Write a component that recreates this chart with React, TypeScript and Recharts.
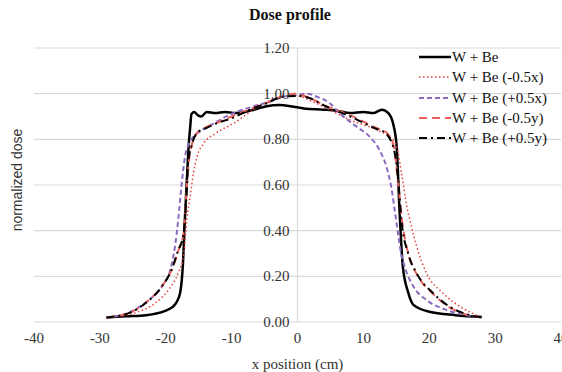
import React from "react";
import { LineChart, Line, XAxis, YAxis, CartesianGrid, ReferenceLine } from "recharts";

const seriesNames = ["W + Be", "W + Be (-0.5x)", "W + Be (+0.5x)", "W + Be (-0.5y)", "W + Be (+0.5y)"];

// W + Be
const xW = [-29, -26, -23, -20, -19, -18.3, -17.8, -17.4, -17.1, -16.8, -16.5, -16.3, -16.1, -15.7, -15.1, -14.6, -13.8, -12.5, -11, -9.5, -8, -6.5, -4.7, -2.7, -1, 1, 4, 6, 8, 10, 11.5, 12.8, 13.8, 14.5, 15.05, 15.5, 16, 16.8, 17.6, 20, 24, 28];
const yW = [0.02, 0.025, 0.03, 0.05, 0.065, 0.09, 0.13, 0.25, 0.45, 0.62, 0.78, 0.85, 0.91, 0.92, 0.905, 0.9, 0.92, 0.915, 0.92, 0.915, 0.92, 0.93, 0.945, 0.95, 0.945, 0.935, 0.93, 0.925, 0.915, 0.92, 0.915, 0.93, 0.915, 0.87, 0.77, 0.48, 0.24, 0.13, 0.075, 0.045, 0.03, 0.022];

// W + Be (-0.5x)
const xMx = [-29, -24.7, -21.6, -19.6, -18.1, -17.3, -16.8, -16.3, -15.8, -15.3, -14.3, -12.5, -9.7, -6.7, -4.2, -2.2, 0, 1.9, 4.4, 8, 12.5, 14, 15.05, 15.8, 16.6, 17.2, 18.1, 19.6, 22.1, 24.7, 28];
const yMx = [0.02, 0.04, 0.083, 0.14, 0.215, 0.29, 0.45, 0.55, 0.65, 0.72, 0.78, 0.825, 0.87, 0.93, 0.97, 0.99, 0.99, 0.97, 0.936, 0.885, 0.835, 0.81, 0.77, 0.65, 0.505, 0.43, 0.33, 0.213, 0.126, 0.067, 0.02];

// W + Be (+0.5x)
const xPx = [-29, -25.7, -22.6, -20.6, -19.3, -18.6, -18.1, -17.6, -17.1, -16.3, -14.8, -13.3, -11.5, -9.8, -7.2, -3.7, -2.2, 0, 1.5, 2.9, 4.9, 6.4, 9, 11, 12.5, 13.5, 14.3, 14.8, 15.3, 15.6, 16.3, 17.6, 19.6, 22.6, 25.7, 28];
const yPx = [0.02, 0.04, 0.096, 0.155, 0.23, 0.33, 0.45, 0.6, 0.72, 0.79, 0.835, 0.86, 0.89, 0.914, 0.94, 0.97, 0.987, 0.995, 1.0, 0.987, 0.958, 0.914, 0.855, 0.81, 0.75, 0.68, 0.58, 0.48, 0.38, 0.32, 0.24, 0.155, 0.096, 0.053, 0.03, 0.02];

// W + Be (-0.5y)
const xMy = [-29, -25.5, -23, -20.5, -19, -18, -17.3, -16.8, -16.5, -16, -15.2, -13.8, -12, -10, -7, -4.5, -2, -0.5, 1.5, 4, 8, 12, 13.5, 14.6, 15.3, 15.9, 16.9, 18.2, 20.7, 23.2, 26.3, 28];
const yMy = [0.02, 0.04, 0.085, 0.16, 0.235, 0.32, 0.39, 0.59, 0.7, 0.78, 0.83, 0.855, 0.875, 0.9, 0.935, 0.962, 0.99, 1.0, 0.985, 0.95, 0.905, 0.85, 0.83, 0.77, 0.6, 0.44, 0.29, 0.205, 0.12, 0.062, 0.028, 0.02];

// W + Be (+0.5y)
const xPy = [-29, -25.7, -23.1, -20.6, -19.1, -18.1, -17.4, -16.8, -16.6, -16.1, -15.3, -13.8, -12.3, -10.2, -7.2, -4.7, -2.2, 0, 1.9, 4.4, 8, 12.5, 13, 14.5, 15.3, 15.8, 16.8, 18.1, 20.6, 23.1, 26.2, 28];
const yPy = [0.02, 0.038, 0.082, 0.155, 0.23, 0.315, 0.37, 0.58, 0.695, 0.77, 0.826, 0.85, 0.87, 0.89, 0.93, 0.958, 0.987, 0.99, 0.98, 0.943, 0.9, 0.84, 0.835, 0.77, 0.62, 0.44, 0.3, 0.213, 0.126, 0.067, 0.03, 0.02];

const xTicks = [-40, -30, -20, -10, 0, 10, 20, 30, 40];
const yTicks = [0, 0.2, 0.4, 0.6, 0.8, 1.0, 1.2];

const toPoints = (xs: number[], ys: number[]) => xs.map((x, i) => ({ x, y: ys[i] }));

const series = [
  { name: seriesNames[0], data: toPoints(xW, yW), color: "#000000", width: 2.5, dash: undefined },
  { name: seriesNames[1], data: toPoints(xMx, yMx), color: "#e5403d", width: 1.5, dash: "1.5 2.5" },
  { name: seriesNames[2], data: toPoints(xPx, yPx), color: "#8b6cc0", width: 2, dash: "5 3" },
  { name: seriesNames[3], data: toPoints(xMy, yMy), color: "#e8605e", width: 2, dash: "8 5" },
  { name: seriesNames[4], data: toPoints(xPy, yPy), color: "#000000", width: 2, dash: "8 4 2 4" },
];

const W = 562;
const H = 372;
const LEFT = 33;
const YAXIS_W = 1;
const TOP = 48;
const RIGHT = 1;
const XAXIS_H = 50;
const ZERO_X = LEFT + YAXIS_W + (W - LEFT - YAXIS_W - RIGHT) / 2;
const SERIF = "'Liberation Serif', 'Times New Roman', serif";

const renderYTick = (props: any) => {
  const { y, payload } = props;
  return (
    <text x={ZERO_X - 8} y={y} dy={5} textAnchor="end" fontSize={15} fontFamily={SERIF} fill="#333">
      {Number(payload.value).toFixed(2)}
    </text>
  );
};

const renderXTick = (props: any) => {
  const { x, payload } = props;
  return (
    <text x={x} y={H - XAXIS_H + 21} textAnchor="middle" fontSize={15} fontFamily={SERIF} fill="#333">
      {payload.value}
    </text>
  );
};

export default function App() {
  return (
    <div style={{ position: "absolute", left: 0, top: 0, width: W, height: H, background: "#fff", overflow: "hidden" }}>
      <div
        style={{
          position: "absolute",
          left: 0,
          width: 580,
          top: 6,
          textAlign: "center",
          fontFamily: SERIF,
          fontWeight: "bold",
          fontSize: 16,
          color: "#111",
        }}
      >
        Dose profile
      </div>
      <div
        style={{
          position: "absolute",
          left: 17,
          top: 180,
          transform: "translate(-50%, -50%) rotate(-90deg)",
          whiteSpace: "nowrap",
          fontFamily: "'Liberation Sans', Arial, sans-serif",
          fontSize: 14,
          color: "#333",
        }}
      >
        normalized dose
      </div>
      <LineChart width={W} height={H} margin={{ top: TOP, right: RIGHT, bottom: 0, left: LEFT }}>
        <CartesianGrid vertical={false} stroke="#d9d9d9" strokeWidth={1.2} />
        <XAxis
          dataKey="x"
          type="number"
          domain={[-40, 40]}
          ticks={xTicks}
          height={XAXIS_H}
          axisLine={false}
          tickLine={false}
          tick={renderXTick}
          interval={0}
          allowDataOverflow
          label={{
            value: "x position (cm)",
            position: "insideBottom",
            offset: 3,
            style: { fontFamily: SERIF, fontSize: 15, fill: "#333" },
          }}
        />
        <YAxis
          type="number"
          domain={[0, 1.2]}
          ticks={yTicks}
          width={YAXIS_W}
          axisLine={false}
          tickLine={false}
          tick={renderYTick}
          interval={0}
        />
        <ReferenceLine x={0} stroke="#d9d9d9" strokeWidth={1.2} />
        {series.map((s) => (
          <Line
            key={s.name}
            name={s.name}
            data={s.data}
            dataKey="y"
            type="monotone"
            stroke={s.color}
            strokeWidth={s.width}
            strokeDasharray={s.dash}
            dot={false}
            activeDot={false}
            isAnimationActive={false}
          />
        ))}
      </LineChart>
      <div style={{ position: "absolute", left: 418, top: 47, fontFamily: SERIF, fontSize: 15, color: "#111" }}>
        {series.map((s) => (
          <div key={s.name} style={{ display: "flex", alignItems: "center", height: 20.3 }}>
            <svg width={34} height={10}>
              <line x1={1} y1={5} x2={33} y2={5} stroke={s.color} strokeWidth={s.width} strokeDasharray={s.dash} />
            </svg>
            <span style={{ lineHeight: "20px" }}>{s.name}</span>
          </div>
        ))}
      </div>
    </div>
  );
}
